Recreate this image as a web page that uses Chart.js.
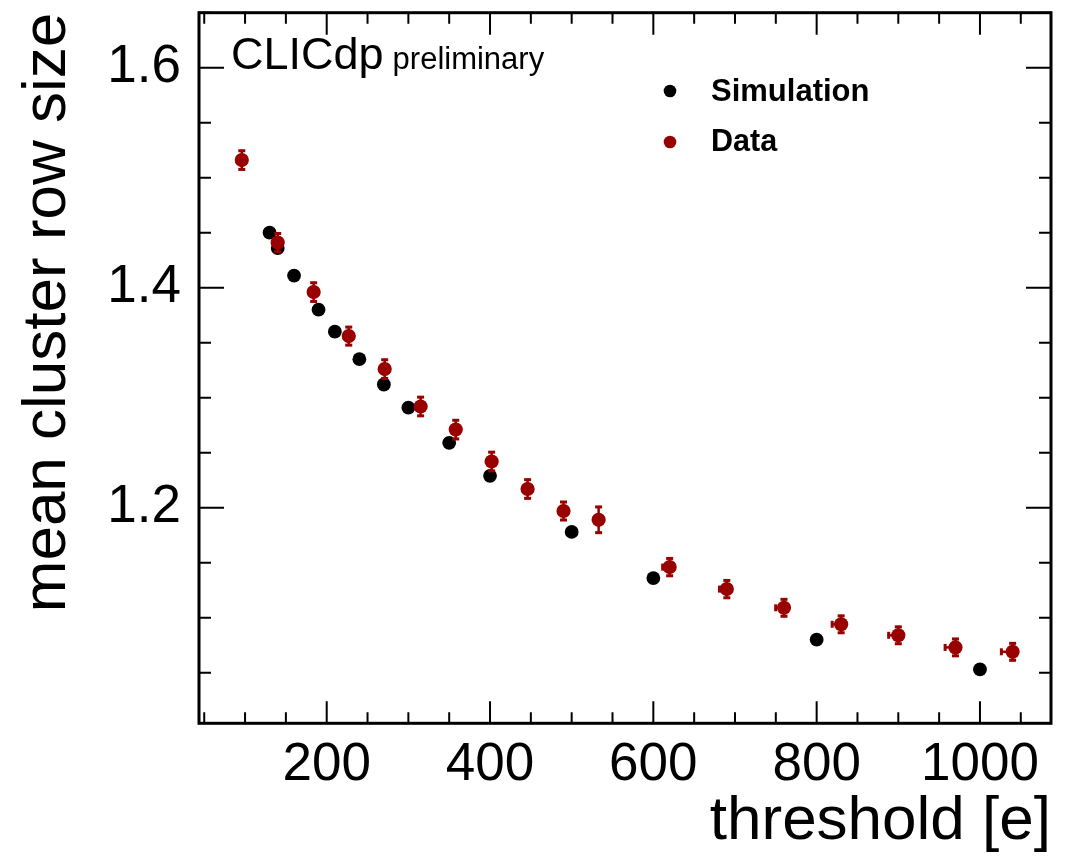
<!DOCTYPE html>
<html><head><meta charset="utf-8">
<script src="https://cdn.jsdelivr.net/npm/chart.js@4.4.0/dist/chart.umd.min.js"></script>
<style>html,body{margin:0;padding:0;background:#fff;} #wrap{width:1077px;height:860px;}</style>
</head><body><div id="wrap"><canvas id="c" width="1077" height="860"></canvas></div>
<script>
// ---- data ----
const simX = [130,140,160,190,210,240,270,300,350,400,500,600,800,1000];
const simY = [1.450,1.436,1.411,1.380,1.360,1.335,1.312,1.291,1.259,1.229,1.178,1.136,1.080,1.053];
const dataX = [96,140,184,227,271,315,358,402,446,490,533,620,690,760,830,900,970,1040];
const dataY = [1.516,1.441,1.396,1.356,1.326,1.292,1.271,1.242,1.217,1.197,1.189,1.146,1.126,1.109,1.094,1.084,1.073,1.069];
const dataYErr = [0.0094,0.0092,0.0094,0.0091,0.0094,0.0094,0.0094,0.0094,0.0094,0.0091,0.0126,0.0088,0.0088,0.0086,0.0086,0.0086,0.0086,0.0086];
const dataXErrLow = [0,0,0,0,0,0,0,0,0,0,0,9.8,10.2,11.4,12.2,13.0,13.9,15.0];
const xTicks = [200,400,600,800,1000];
const xTickLabels = ['200','400','600','800','1000'];
const yTicks = [1.2,1.4,1.6];
const yTickLabels = ['1.2','1.4','1.6'];
const xMinor = [50,100,150,250,300,350,450,500,550,650,700,750,850,900,950,1050];
const yMinor = [1.05,1.1,1.15,1.25,1.3,1.35,1.45,1.5,1.55,1.65];
const seriesNames = ['Simulation','Data'];
const xTitle = 'threshold [e]';
const yTitle = 'mean cluster row size';

const FONT = '"Liberation Sans", Arial, Helvetica, sans-serif';
const RED = '#990000';
const BLACK = '#000000';

const overlay = {
  id: 'overlay',
  beforeDatasetDraw(chart, args) {
    if (args.index !== 1) return;
    const ctx = chart.ctx, xs = chart.scales.x, ys = chart.scales.y;
    ctx.save();
    ctx.strokeStyle = RED; ctx.fillStyle = RED; ctx.lineWidth = 2.5;
    for (let i = 0; i < dataX.length; i++) {
      const px = xs.getPixelForValue(dataX[i]);
      const py = ys.getPixelForValue(dataY[i]);
      const yt = ys.getPixelForValue(dataY[i] + dataYErr[i]);
      const yb = ys.getPixelForValue(dataY[i] - dataYErr[i]);
      ctx.beginPath(); ctx.moveTo(px, yt); ctx.lineTo(px, yb); ctx.stroke();
      ctx.fillRect(px - 3.5, yt - 0.5, 7, 3);
      ctx.fillRect(px - 3.5, yb - 2.5, 7, 3);
      if (dataXErrLow[i] > 0) {
        const xl = xs.getPixelForValue(dataX[i] - dataXErrLow[i]);
        ctx.beginPath(); ctx.moveTo(xl, py); ctx.lineTo(px, py); ctx.stroke();
        ctx.fillRect(xl - 0.5, py - 3.5, 3, 7);
      }
    }
    ctx.restore();
  },
  afterDraw(chart) {
    const ctx = chart.ctx, xs = chart.scales.x, ys = chart.scales.y;
    const a = chart.chartArea;
    ctx.save();
    ctx.strokeStyle = '#000';
    ctx.lineWidth = 2;
    const tickX = (v, len) => {
      const p = xs.getPixelForValue(v);
      ctx.beginPath();
      ctx.moveTo(p, a.bottom); ctx.lineTo(p, a.bottom - len);
      ctx.moveTo(p, a.top); ctx.lineTo(p, a.top + len);
      ctx.stroke();
    };
    const tickY = (v, len) => {
      const p = ys.getPixelForValue(v);
      ctx.beginPath();
      ctx.moveTo(a.left, p); ctx.lineTo(a.left + len, p);
      ctx.moveTo(a.right, p); ctx.lineTo(a.right - len, p);
      ctx.stroke();
    };
    xTicks.forEach(v => tickX(v, 22));
    xMinor.forEach(v => tickX(v, 11));
    yTicks.forEach(v => tickY(v, 25));
    yMinor.forEach(v => tickY(v, 12));
    ctx.lineWidth = 3;
    ctx.strokeRect(a.left, a.top, a.right - a.left, a.bottom - a.top);
    ctx.fillStyle = '#000';
    ctx.textBaseline = 'alphabetic';
    ctx.textAlign = 'left';
    ctx.font = '45px ' + FONT;
    ctx.fillText('CLICdp', 231, 68.5);
    const w = ctx.measureText('CLICdp').width;
    ctx.font = '31px ' + FONT;
    ctx.fillText('preliminary', 231 + w + 9, 68.5);
    const legY = [91, 142];
    const legC = [BLACK, RED];
    ctx.textBaseline = 'middle';
    const legSize = [31, 30.5];
    for (let i = 0; i < seriesNames.length; i++) {
      ctx.fillStyle = legC[i];
      ctx.beginPath(); ctx.arc(670, legY[i], 6.3, 0, Math.PI * 2); ctx.fill();
      ctx.fillStyle = '#000';
      ctx.font = 'bold ' + legSize[i] + 'px ' + FONT;
      ctx.fillText(seriesNames[i], 711, legY[i] + 1);
    }
    ctx.restore();
  }
};

const chart = new Chart(document.getElementById('c'), {
  type: 'scatter',
  data: {
    datasets: [
      { label: seriesNames[0], data: simX.map((x, i) => ({x, y: simY[i]})),
        pointRadius: 6.9, pointHoverRadius: 6.9, pointBackgroundColor: BLACK, pointBorderWidth: 0,
        borderColor: BLACK, showLine: false, order: 1 },
      { label: seriesNames[1], data: dataX.map((x, i) => ({x, y: dataY[i]})),
        pointRadius: 7.1, pointHoverRadius: 7.1, pointBackgroundColor: RED, pointBorderWidth: 0,
        borderColor: RED, showLine: false, order: 0 }
    ]
  },
  options: {
    responsive: false, animation: false, devicePixelRatio: 1,
    layout: { padding: { top: 12.7, right: 26, bottom: 0, left: 0 } },
    plugins: { legend: { display: false }, tooltip: { enabled: false } },
    events: [],
    scales: {
      x: {
        type: 'linear', min: 43.6, max: 1087,
        afterBuildTicks: s => { s.ticks = xTicks.map(v => ({ value: v })); },
        afterFit: s => { s.height = 136.7; s.paddingLeft = 0; s.paddingRight = 0; },
        grid: { display: false, drawTicks: false }, border: { display: false },
        ticks: { font: { family: FONT, size: 53 }, color: '#000', padding: 10, maxRotation: 0, autoSkip: false,
                 callback: (v, i) => xTickLabels[i] },
        title: { display: true, text: xTitle, align: 'end', color: '#000',
                 font: { family: FONT, size: 62, lineHeight: 1 }, padding: { top: 0, bottom: 7 } }
      },
      y: {
        type: 'linear', min: 1.004, max: 1.65,
        afterBuildTicks: s => { s.ticks = yTicks.map(v => ({ value: v })); },
        afterFit: s => { s.width = 199; s.paddingTop = 0; s.paddingBottom = 0; },
        grid: { display: false, drawTicks: false }, border: { display: false },
        ticks: { font: { family: FONT, size: 53 }, color: '#000', padding: 18, autoSkip: false,
                 callback: (v, i) => yTickLabels[i] },
        title: { display: true, text: yTitle, align: 'end', color: '#000',
                 font: { family: FONT, size: 62, lineHeight: 1 }, padding: { top: 17, bottom: 0 } }
      }
    }
  },
  plugins: [overlay]
});
</script></body></html>
